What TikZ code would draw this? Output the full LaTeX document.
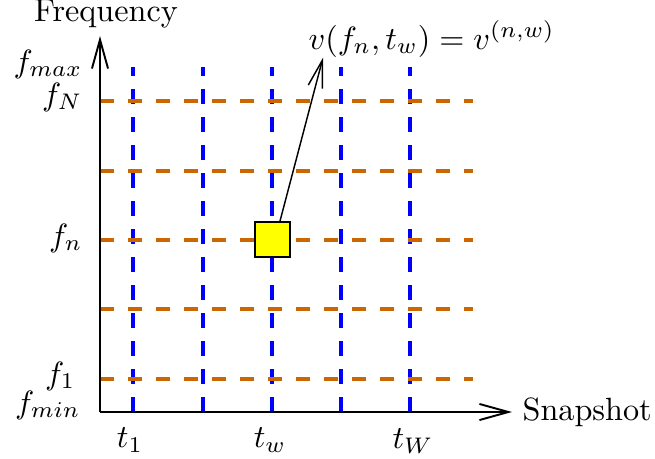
\documentclass[tikz,border=0pt]{standalone}
\usetikzlibrary{arrows.meta,calc}
\definecolor{gridorange}{RGB}{204,102,0}
\definecolor{gridblue}{RGB}{0,0,255}
\definecolor{boxyellow}{RGB}{255,255,0}
\tikzset{
  axisline/.style={line width=0.6pt,-{Straight Barb[length=9pt,width=5pt]}},
  vline/.style={gridblue,line width=1pt,dash pattern=on 4.6pt off 4.1pt},
  hline/.style={gridorange,line width=1pt,dash pattern=on 4.3pt off 4.4pt},
  lbl/.style={inner sep=0pt},
  cell/.style={draw,fill=boxyellow,line width=0.55pt,minimum size=10.9pt,inner sep=0pt},
  pointer/.style={line width=0.45pt,-{Straight Barb[length=8.5pt,width=4.5pt]}}
}
\begin{document}
\begin{tikzpicture}[x=0.3106pt,y=-0.3106pt]
\useasboundingbox (0,0) rectangle (655,459);
\coordinate (O) at (100,412);
\coordinate (ytop) at (100,36);
\coordinate (xend) at (512,412);
% grid lines
\foreach \x in {133,203,272,341,410}
  \draw[vline] (\x,412) -- (\x,67);
\foreach \y in {101,171,240,309,379}
  \draw[hline] (100,\y) -- (473,\y);
% axes
\draw[axisline] (O) -- (ytop);
\draw[axisline] (O) -- (xend);
% labels
\node[lbl,anchor=base] (freq) at (106,21) {Frequency};
\node[lbl,anchor=west] (snap) at (522,412) {Snapshot};
\node[lbl,anchor=east] (fmax) at (83,64) {$f_{max}$};
\node[lbl,anchor=east] (fN) at (83,97) {$f_N$};
\node[lbl,anchor=east] (fn) at (83,238) {$f_n$};
\node[lbl,anchor=east] (f1) at (76,376) {$f_1$};
\node[lbl,anchor=east] (fmin) at (81,405) {$f_{min}$};
\node[lbl] (t1) at (130,440) {$t_1$};
\node[lbl] (tw) at (270,440) {$t_w$};
\node[lbl] (tW) at (413,441) {$t_W$};
% cell and pointer
\node[cell] (sq) at (272.5,239.5) {};
\node[lbl,anchor=base west] (vlab) at (308,49) {$v(f_n,t_w)=v^{(n,w)}$};
\draw[pointer] ($(sq.north)+(7.5,0)$) -- ($(vlab.south west)+(15,0)$);
\end{tikzpicture}
\end{document}
